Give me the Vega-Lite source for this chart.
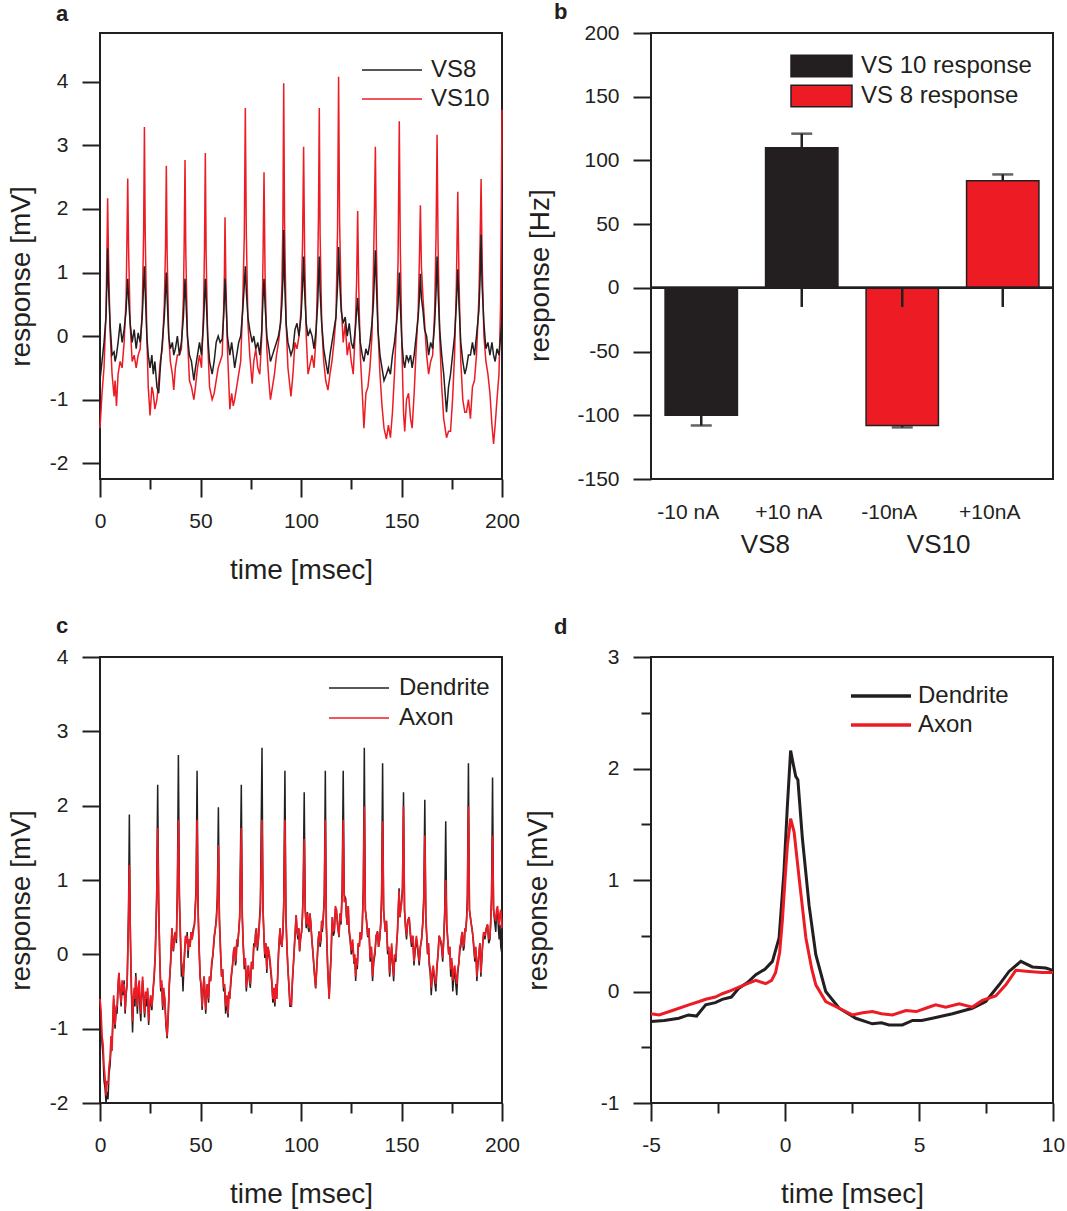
{
"$schema": "https://vega.github.io/schema/vega-lite/v6.json",
"background": "white",
"padding": {"left": 6, "top": 0, "right": 0, "bottom": 0},
"datasets": {
"a": [
{"t":0,"VS8":-0.7,"VS10":-1.45},{"t":1,"VS8":-0.4,"VS10":-0.9},{"t":2,"VS8":-0.1,"VS10":-0.5},{"t":3,"VS8":0.3,"VS10":0.4},{"t":3.4,"VS8":0.8,"VS10":1.2},{"t":3.8,"VS8":1.38,"VS10":2.17},{"t":4.2,"VS8":0.8,"VS10":1.3},{"t":5,"VS8":0.2,"VS10":0.1},{"t":6,"VS8":-0.3,"VS10":-0.6},{"t":7,"VS8":-0.25,"VS10":-0.95},{"t":7.5,"VS8":-0.4,"VS10":-0.7},{"t":8.2,"VS8":-0.3,"VS10":-1.1},{"t":9,"VS8":-0.1,"VS10":-0.6},{"t":10,"VS8":0.2,"VS10":-0.4},{"t":11,"VS8":-0.1,"VS10":-0.5},{"t":12,"VS8":0.1,"VS10":-0.1},{"t":13,"VS8":0.4,"VS10":0.6},{"t":13.4,"VS8":0.7,"VS10":1.5},{"t":13.8,"VS8":0.9,"VS10":2.48},{"t":14.2,"VS8":0.6,"VS10":1.4},{"t":15,"VS8":0.2,"VS10":0.2},{"t":16,"VS8":-0.1,"VS10":-0.4},{"t":17,"VS8":0.1,"VS10":-0.3},{"t":18,"VS8":-0.2,"VS10":-0.5},{"t":19,"VS8":0.05,"VS10":-0.3},{"t":20,"VS8":-0.1,"VS10":-0.2},{"t":21,"VS8":0.3,"VS10":0.4},{"t":21.7,"VS8":0.8,"VS10":1.6},{"t":22.1,"VS8":1.1,"VS10":3.29},{"t":22.5,"VS8":0.7,"VS10":1.6},{"t":23.3,"VS8":0.0,"VS10":0.0},{"t":24,"VS8":-0.3,"VS10":-0.8},{"t":24.9,"VS8":-0.5,"VS10":-1.25},{"t":25.8,"VS8":-0.3,"VS10":-0.8},{"t":26.5,"VS8":-0.6,"VS10":-0.9},{"t":27.3,"VS8":-0.4,"VS10":-1.15},{"t":28.3,"VS8":-0.8,"VS10":-1.0},{"t":29.2,"VS8":-0.9,"VS10":-0.7},{"t":30,"VS8":-0.5,"VS10":-0.4},{"t":31,"VS8":-0.1,"VS10":-0.2},{"t":32,"VS8":0.3,"VS10":0.5},{"t":32.6,"VS8":0.7,"VS10":1.4},{"t":33,"VS8":1.0,"VS10":2.68},{"t":33.4,"VS8":0.6,"VS10":1.3},{"t":34.2,"VS8":0.0,"VS10":0.0},{"t":35,"VS8":-0.2,"VS10":-0.4},{"t":36,"VS8":-0.1,"VS10":-0.6},{"t":36.7,"VS8":-0.3,"VS10":-0.85},{"t":37.5,"VS8":-0.2,"VS10":-0.5},{"t":38.5,"VS8":0.0,"VS10":-0.3},{"t":39.5,"VS8":-0.3,"VS10":-0.3},{"t":40.5,"VS8":-0.1,"VS10":-0.2},{"t":41.5,"VS8":0.3,"VS10":0.6},{"t":41.9,"VS8":0.6,"VS10":1.5},{"t":42.3,"VS8":0.9,"VS10":2.77},{"t":42.7,"VS8":0.6,"VS10":1.3},{"t":43.5,"VS8":0.0,"VS10":0.0},{"t":44.5,"VS8":-0.3,"VS10":-0.7},{"t":45.5,"VS8":-0.4,"VS10":-0.8},{"t":46.7,"VS8":-0.7,"VS10":-1.0},{"t":47.5,"VS8":-0.5,"VS10":-0.8},{"t":48.5,"VS8":-0.3,"VS10":-0.5},{"t":49.5,"VS8":-0.1,"VS10":-0.3},{"t":50.5,"VS8":-0.3,"VS10":-0.5},{"t":51.5,"VS8":0.2,"VS10":0.4},{"t":52,"VS8":0.6,"VS10":1.4},{"t":52.4,"VS8":0.9,"VS10":2.88},{"t":52.8,"VS8":0.6,"VS10":1.3},{"t":53.6,"VS8":0.0,"VS10":-0.1},{"t":54.5,"VS8":-0.4,"VS10":-0.8},{"t":55.8,"VS8":-0.6,"VS10":-1.0},{"t":56.8,"VS8":-0.4,"VS10":-0.9},{"t":57.8,"VS8":-0.1,"VS10":-0.7},{"t":58.8,"VS8":0.0,"VS10":-0.5},{"t":59.8,"VS8":-0.1,"VS10":-0.4},{"t":60.8,"VS8":-0.05,"VS10":-0.3},{"t":61.5,"VS8":0.3,"VS10":0.4},{"t":61.9,"VS8":0.6,"VS10":1.0},{"t":62.2,"VS8":0.9,"VS10":1.87},{"t":62.6,"VS8":0.6,"VS10":0.9},{"t":63.4,"VS8":0.0,"VS10":-0.2},{"t":64.6,"VS8":-0.3,"VS10":-1.15},{"t":65.5,"VS8":-0.1,"VS10":-0.9},{"t":66.3,"VS8":-0.3,"VS10":-1.1},{"t":67,"VS8":-0.5,"VS10":-1.0},{"t":68,"VS8":-0.3,"VS10":-0.8},{"t":69,"VS8":-0.1,"VS10":-0.6},{"t":70,"VS8":0.0,"VS10":-0.4},{"t":71,"VS8":0.4,"VS10":0.5},{"t":71.8,"VS8":0.8,"VS10":1.6},{"t":72.3,"VS8":1.1,"VS10":3.59},{"t":72.8,"VS8":0.7,"VS10":1.6},{"t":73.6,"VS8":0.3,"VS10":0.2},{"t":74.5,"VS8":0.1,"VS10":-0.3},{"t":75.7,"VS8":-0.1,"VS10":-0.75},{"t":76.5,"VS8":0.0,"VS10":-0.4},{"t":77.5,"VS8":-0.2,"VS10":-0.2},{"t":78.5,"VS8":-0.1,"VS10":-0.5},{"t":79.5,"VS8":-0.3,"VS10":-0.6},{"t":80.5,"VS8":0.1,"VS10":0.0},{"t":81.1,"VS8":0.6,"VS10":1.2},{"t":81.6,"VS8":0.9,"VS10":2.58},{"t":82.1,"VS8":0.5,"VS10":1.0},{"t":83,"VS8":0.0,"VS10":-0.2},{"t":84,"VS8":-0.2,"VS10":-0.7},{"t":84.8,"VS8":-0.4,"VS10":-1.0},{"t":85.8,"VS8":-0.3,"VS10":-0.8},{"t":86.8,"VS8":-0.2,"VS10":-0.6},{"t":87.8,"VS8":-0.1,"VS10":-0.3},{"t":88.8,"VS8":0.0,"VS10":-0.1},{"t":89.8,"VS8":0.2,"VS10":0.2},{"t":90.5,"VS8":0.5,"VS10":0.8},{"t":91,"VS8":0.9,"VS10":1.8},{"t":91.4,"VS8":1.67,"VS10":3.98},{"t":91.8,"VS8":0.9,"VS10":1.8},{"t":92.6,"VS8":0.2,"VS10":0.2},{"t":93.5,"VS8":-0.1,"VS10":-0.5},{"t":95,"VS8":-0.3,"VS10":-0.95},{"t":96,"VS8":-0.2,"VS10":-0.6},{"t":97,"VS8":0.1,"VS10":-0.1},{"t":98,"VS8":0.2,"VS10":-0.2},{"t":99,"VS8":0.0,"VS10":0.0},{"t":100,"VS8":0.3,"VS10":0.4},{"t":100.8,"VS8":0.8,"VS10":1.5},{"t":101.3,"VS8":1.25,"VS10":2.98},{"t":101.8,"VS8":0.7,"VS10":1.3},{"t":102.6,"VS8":0.2,"VS10":0.0},{"t":103.5,"VS8":0.0,"VS10":-0.6},{"t":104.5,"VS8":0.1,"VS10":-0.45},{"t":105.5,"VS8":0.0,"VS10":-0.3},{"t":106.5,"VS8":-0.2,"VS10":-0.5},{"t":107.5,"VS8":0.1,"VS10":0.0},{"t":108.3,"VS8":0.5,"VS10":1.0},{"t":108.7,"VS8":0.9,"VS10":1.9},{"t":109.1,"VS8":1.25,"VS10":3.59},{"t":109.5,"VS8":0.7,"VS10":1.6},{"t":110.3,"VS8":0.2,"VS10":0.2},{"t":111.3,"VS8":-0.2,"VS10":-0.4},{"t":112.3,"VS8":-0.4,"VS10":-0.7},{"t":113.4,"VS8":-0.6,"VS10":-0.85},{"t":114.4,"VS8":-0.3,"VS10":-0.6},{"t":115.4,"VS8":-0.1,"VS10":-0.4},{"t":116.4,"VS8":0.1,"VS10":-0.1},{"t":117.4,"VS8":0.3,"VS10":0.3},{"t":118.2,"VS8":0.8,"VS10":1.7},{"t":118.7,"VS8":1.4,"VS10":4.08},{"t":119.2,"VS8":0.9,"VS10":1.8},{"t":120,"VS8":0.4,"VS10":0.5},{"t":121,"VS8":0.2,"VS10":-0.1},{"t":122,"VS8":0.3,"VS10":0.2},{"t":123,"VS8":0.0,"VS10":-0.3},{"t":124,"VS8":0.2,"VS10":-0.1},{"t":125,"VS8":-0.1,"VS10":-0.4},{"t":126,"VS8":-0.2,"VS10":-0.6},{"t":127,"VS8":0.1,"VS10":0.1},{"t":127.7,"VS8":0.4,"VS10":0.9},{"t":128.2,"VS8":0.6,"VS10":1.97},{"t":128.7,"VS8":0.3,"VS10":0.8},{"t":129.5,"VS8":-0.1,"VS10":-0.3},{"t":130.5,"VS8":-0.3,"VS10":-0.9},{"t":131.3,"VS8":-0.4,"VS10":-1.45},{"t":132.3,"VS8":-0.2,"VS10":-0.9},{"t":133.3,"VS8":-0.3,"VS10":-0.8},{"t":134.3,"VS8":-0.1,"VS10":-0.5},{"t":135.3,"VS8":0.2,"VS10":0.0},{"t":136,"VS8":0.5,"VS10":1.0},{"t":136.5,"VS8":0.9,"VS10":1.9},{"t":137,"VS8":1.35,"VS10":2.98},{"t":137.5,"VS8":0.8,"VS10":1.4},{"t":138.3,"VS8":0.1,"VS10":0.1},{"t":139.3,"VS8":-0.3,"VS10":-0.6},{"t":140.3,"VS8":-0.5,"VS10":-1.1},{"t":141.3,"VS8":-0.7,"VS10":-1.45},{"t":142.5,"VS8":-0.6,"VS10":-1.62},{"t":143.5,"VS8":-0.5,"VS10":-1.4},{"t":144.5,"VS8":-0.6,"VS10":-1.6},{"t":145.5,"VS8":-0.3,"VS10":-1.2},{"t":146.5,"VS8":-0.1,"VS10":-0.6},{"t":147.5,"VS8":0.2,"VS10":0.2},{"t":148.3,"VS8":0.5,"VS10":1.2},{"t":148.9,"VS8":1.0,"VS10":3.38},{"t":149.4,"VS8":0.5,"VS10":1.4},{"t":150.2,"VS8":-0.1,"VS10":-0.2},{"t":151,"VS8":-0.4,"VS10":-1.2},{"t":151.6,"VS8":-0.5,"VS10":-1.5},{"t":152.5,"VS8":-0.3,"VS10":-1.0},{"t":153.5,"VS8":-0.4,"VS10":-0.9},{"t":154.5,"VS8":-0.3,"VS10":-1.3},{"t":155.3,"VS8":-0.5,"VS10":-1.45},{"t":156.3,"VS8":-0.3,"VS10":-0.9},{"t":157.3,"VS8":0.0,"VS10":-0.2},{"t":158.3,"VS8":0.3,"VS10":0.4},{"t":158.9,"VS8":0.6,"VS10":1.2},{"t":159.4,"VS8":0.98,"VS10":2.06},{"t":159.9,"VS8":0.6,"VS10":1.1},{"t":160.7,"VS8":0.4,"VS10":0.6},{"t":161.5,"VS8":0.1,"VS10":0.2},{"t":162.5,"VS8":0.0,"VS10":-0.3},{"t":163.5,"VS8":-0.3,"VS10":-0.6},{"t":164.5,"VS8":-0.1,"VS10":-0.4},{"t":165.5,"VS8":-0.2,"VS10":-0.3},{"t":166.5,"VS8":0.2,"VS10":0.4},{"t":167.2,"VS8":0.7,"VS10":1.6},{"t":167.7,"VS8":1.25,"VS10":3.17},{"t":168.2,"VS8":0.7,"VS10":1.4},{"t":169,"VS8":0.1,"VS10":0.0},{"t":170,"VS8":-0.3,"VS10":-0.8},{"t":171,"VS8":-0.6,"VS10":-1.3},{"t":172.4,"VS8":-1.2,"VS10":-1.6},{"t":173.4,"VS8":-0.8,"VS10":-1.5},{"t":174.4,"VS8":-0.6,"VS10":-1.5},{"t":175.4,"VS8":-0.3,"VS10":-1.0},{"t":176.4,"VS8":0.0,"VS10":-0.3},{"t":177.3,"VS8":0.5,"VS10":0.8},{"t":178,"VS8":1.05,"VS10":2.27},{"t":178.6,"VS8":0.5,"VS10":0.9},{"t":179.5,"VS8":-0.1,"VS10":-0.4},{"t":180.5,"VS8":-0.4,"VS10":-1.0},{"t":181.5,"VS8":-0.6,"VS10":-1.2},{"t":182.3,"VS8":-0.5,"VS10":-1.2},{"t":183.3,"VS8":-0.3,"VS10":-1.0},{"t":184.3,"VS8":-0.3,"VS10":-1.3},{"t":185.3,"VS8":-0.1,"VS10":-0.8},{"t":186.3,"VS8":-0.3,"VS10":-0.7},{"t":187.3,"VS8":0.0,"VS10":-0.3},{"t":188.5,"VS8":0.4,"VS10":0.6},{"t":189.1,"VS8":0.9,"VS10":1.5},{"t":189.6,"VS8":1.6,"VS10":2.47},{"t":190.1,"VS8":0.8,"VS10":1.2},{"t":191,"VS8":0.2,"VS10":0.0},{"t":192,"VS8":-0.2,"VS10":-0.4},{"t":193,"VS8":-0.1,"VS10":-0.6},{"t":194,"VS8":-0.3,"VS10":-0.9},{"t":195,"VS8":-0.1,"VS10":-1.4},{"t":195.8,"VS8":-0.3,"VS10":-1.7},{"t":196.6,"VS8":-0.4,"VS10":-1.4},{"t":197.5,"VS8":-0.2,"VS10":-1.0},{"t":198.5,"VS8":-0.3,"VS10":-0.6},{"t":199.3,"VS8":0.0,"VS10":0.5},{"t":200,"VS8":0.3,"VS10":3.56}
],
"b": [
{"cond":"-10 nA","grp":"VS8","series":"VS 10 response","value":-100,"cap":-108,"dl":-15},
{"cond":"+10 nA","grp":"VS8","series":"VS 10 response","value":110,"cap":121,"dl":-15},
{"cond":"-10nA","grp":"VS10","series":"VS 8 response","value":-108,"cap":-109.5,"dl":-15},
{"cond":"+10nA","grp":"VS10","series":"VS 8 response","value":84,"cap":89,"dl":-15}
],
"c": [
{"t":0,"Dendrite":-0.7,"Axon":-0.6},{"t":0.5,"Dendrite":-0.9,"Axon":-0.75},{"t":1,"Dendrite":-1.2,"Axon":-1.1},{"t":1.5,"Dendrite":-1.35,"Axon":-1.2},{"t":2,"Dendrite":-1.7,"Axon":-1.5},{"t":2.5,"Dendrite":-1.8,"Axon":-1.65},{"t":3,"Dendrite":-2.0,"Axon":-1.9},{"t":3.5,"Dendrite":-1.85,"Axon":-1.7},{"t":4,"Dendrite":-1.95,"Axon":-1.75},{"t":4.5,"Dendrite":-1.6,"Axon":-1.5},{"t":5,"Dendrite":-1.5,"Axon":-1.4},{"t":5.5,"Dendrite":-1.25,"Axon":-1.1},{"t":6,"Dendrite":-1.2,"Axon":-1.3},{"t":6.4,"Dendrite":-0.9,"Axon":-0.85},{"t":6.8,"Dendrite":-0.6,"Axon":-0.55},{"t":7.2,"Dendrite":-0.9,"Axon":-0.8},{"t":7.5,"Dendrite":-1.0,"Axon":-0.95},{"t":8,"Dendrite":-0.75,"Axon":-0.7},{"t":8.5,"Dendrite":-0.8,"Axon":-0.7},{"t":9,"Dendrite":-0.45,"Axon":-0.4},{"t":9.4,"Dendrite":-0.25,"Axon":-0.25},{"t":10,"Dendrite":-0.5,"Axon":-0.5},{"t":10.5,"Dendrite":-0.7,"Axon":-0.65},{"t":11,"Dendrite":-0.4,"Axon":-0.35},{"t":11.5,"Dendrite":-0.55,"Axon":-0.5},{"t":12,"Dendrite":-0.35,"Axon":-0.4},{"t":12.5,"Dendrite":-0.8,"Axon":-0.75},{"t":13,"Dendrite":-0.55,"Axon":-0.5},{"t":13.5,"Dendrite":-0.4,"Axon":-0.4},{"t":14.2,"Dendrite":0.6,"Axon":0.5},{"t":14.6,"Dendrite":1.88,"Axon":1.2},{"t":15.1,"Dendrite":0.3,"Axon":0.25},{"t":15.6,"Dendrite":-0.5,"Axon":-0.4},{"t":16.2,"Dendrite":-1.05,"Axon":-0.9},{"t":16.6,"Dendrite":-0.7,"Axon":-0.6},{"t":17,"Dendrite":-0.5,"Axon":-0.45},{"t":17.4,"Dendrite":-0.7,"Axon":-0.6},{"t":17.8,"Dendrite":-0.25,"Axon":-0.3},{"t":18.2,"Dendrite":-0.55,"Axon":-0.5},{"t":18.6,"Dendrite":-0.8,"Axon":-0.7},{"t":19,"Dendrite":-0.5,"Axon":-0.45},{"t":19.5,"Dendrite":-0.4,"Axon":-0.35},{"t":19.9,"Dendrite":-0.75,"Axon":-0.6},{"t":20.3,"Dendrite":-0.9,"Axon":-0.8},{"t":20.8,"Dendrite":-0.55,"Axon":-0.5},{"t":21.2,"Dendrite":-0.35,"Axon":-0.3},{"t":21.7,"Dendrite":-0.6,"Axon":-0.55},{"t":22.2,"Dendrite":-0.85,"Axon":-0.8},{"t":22.7,"Dendrite":-0.55,"Axon":-0.5},{"t":23.2,"Dendrite":-0.7,"Axon":-0.6},{"t":23.7,"Dendrite":-0.5,"Axon":-0.45},{"t":24.2,"Dendrite":-0.95,"Axon":-0.9},{"t":24.7,"Dendrite":-0.7,"Axon":-0.65},{"t":25.2,"Dendrite":-0.6,"Axon":-0.55},{"t":25.8,"Dendrite":-0.75,"Axon":-0.7},{"t":26.5,"Dendrite":-0.45,"Axon":-0.45},{"t":27,"Dendrite":-0.3,"Axon":-0.25},{"t":27.5,"Dendrite":0.0,"Axon":0.0},{"t":28.2,"Dendrite":0.8,"Axon":0.7},{"t":28.7,"Dendrite":2.28,"Axon":1.7},{"t":29.2,"Dendrite":0.7,"Axon":0.6},{"t":29.7,"Dendrite":0.0,"Axon":0.0},{"t":30.2,"Dendrite":-0.5,"Axon":-0.45},{"t":30.7,"Dendrite":-0.4,"Axon":-0.35},{"t":31.2,"Dendrite":-0.75,"Axon":-0.7},{"t":31.7,"Dendrite":-0.5,"Axon":-0.45},{"t":32.2,"Dendrite":-0.6,"Axon":-0.6},{"t":32.8,"Dendrite":-0.95,"Axon":-0.9},{"t":33.4,"Dendrite":-1.13,"Axon":-1.1},{"t":34,"Dendrite":-0.8,"Axon":-0.75},{"t":34.5,"Dendrite":-0.4,"Axon":-0.4},{"t":35.2,"Dendrite":-0.1,"Axon":-0.05},{"t":35.8,"Dendrite":0.35,"Axon":0.35},{"t":36.2,"Dendrite":0.1,"Axon":0.15},{"t":36.5,"Dendrite":0.04,"Axon":0.05},{"t":37,"Dendrite":0.25,"Axon":0.2},{"t":37.5,"Dendrite":0.3,"Axon":0.3},{"t":38,"Dendrite":0.15,"Axon":0.2},{"t":38.5,"Dendrite":0.9,"Axon":0.8},{"t":39,"Dendrite":2.68,"Axon":1.81},{"t":39.5,"Dendrite":0.8,"Axon":0.7},{"t":40,"Dendrite":0.2,"Axon":0.3},{"t":40.5,"Dendrite":-0.3,"Axon":-0.1},{"t":40.9,"Dendrite":-0.2,"Axon":-0.15},{"t":41.3,"Dendrite":-0.5,"Axon":-0.3},{"t":41.7,"Dendrite":-0.2,"Axon":-0.15},{"t":42.1,"Dendrite":0.0,"Axon":0.05},{"t":42.6,"Dendrite":0.25,"Axon":0.25},{"t":43,"Dendrite":0.15,"Axon":0.15},{"t":43.4,"Dendrite":0.3,"Axon":0.25},{"t":43.8,"Dendrite":-0.05,"Axon":0.05},{"t":44.3,"Dendrite":0.2,"Axon":0.2},{"t":44.8,"Dendrite":0.1,"Axon":0.1},{"t":45.3,"Dendrite":0.3,"Axon":0.3},{"t":45.8,"Dendrite":0.2,"Axon":0.2},{"t":46.4,"Dendrite":0.35,"Axon":0.3},{"t":47,"Dendrite":0.4,"Axon":0.4},{"t":47.8,"Dendrite":0.9,"Axon":0.8},{"t":48.3,"Dendrite":2.47,"Axon":1.81},{"t":48.8,"Dendrite":0.6,"Axon":0.6},{"t":49.3,"Dendrite":0.1,"Axon":0.1},{"t":49.8,"Dendrite":-0.3,"Axon":-0.3},{"t":50.3,"Dendrite":-0.45,"Axon":-0.4},{"t":50.8,"Dendrite":-0.75,"Axon":-0.7},{"t":51.3,"Dendrite":-0.5,"Axon":-0.45},{"t":51.8,"Dendrite":-0.3,"Axon":-0.3},{"t":52.2,"Dendrite":-0.55,"Axon":-0.5},{"t":52.6,"Dendrite":-0.8,"Axon":-0.75},{"t":53,"Dendrite":-0.55,"Axon":-0.5},{"t":53.4,"Dendrite":-0.4,"Axon":-0.4},{"t":54,"Dendrite":-0.65,"Axon":-0.6},{"t":54.5,"Dendrite":-0.3,"Axon":-0.3},{"t":55,"Dendrite":-0.36,"Axon":-0.36},{"t":55.6,"Dendrite":-0.15,"Axon":-0.1},{"t":56.2,"Dendrite":0.0,"Axon":0.0},{"t":56.8,"Dendrite":0.2,"Axon":0.25},{"t":57.4,"Dendrite":0.35,"Axon":0.35},{"t":57.9,"Dendrite":0.5,"Axon":0.45},{"t":58.4,"Dendrite":0.8,"Axon":0.7},{"t":58.9,"Dendrite":1.98,"Axon":1.47},{"t":59.4,"Dendrite":0.5,"Axon":0.45},{"t":60,"Dendrite":0.0,"Axon":0.05},{"t":60.5,"Dendrite":-0.3,"Axon":-0.3},{"t":61,"Dendrite":-0.2,"Axon":-0.2},{"t":61.5,"Dendrite":-0.5,"Axon":-0.45},{"t":62,"Dendrite":-0.45,"Axon":-0.4},{"t":62.5,"Dendrite":-0.8,"Axon":-0.7},{"t":63.1,"Dendrite":-0.6,"Axon":-0.55},{"t":63.7,"Dendrite":-0.85,"Axon":-0.8},{"t":64.1,"Dendrite":-0.55,"Axon":-0.5},{"t":64.5,"Dendrite":-0.6,"Axon":-0.6},{"t":65.2,"Dendrite":-0.35,"Axon":-0.3},{"t":66,"Dendrite":-0.13,"Axon":-0.13},{"t":66.5,"Dendrite":0.05,"Axon":0.05},{"t":67,"Dendrite":0.1,"Axon":0.1},{"t":67.4,"Dendrite":-0.15,"Axon":-0.1},{"t":67.7,"Dendrite":-0.1,"Axon":-0.05},{"t":68.1,"Dendrite":0.2,"Axon":0.2},{"t":68.5,"Dendrite":0.1,"Axon":0.15},{"t":69,"Dendrite":0.3,"Axon":0.3},{"t":69.5,"Dendrite":0.5,"Axon":0.5},{"t":70.3,"Dendrite":2.28,"Axon":1.7},{"t":70.8,"Dendrite":0.5,"Axon":0.5},{"t":71.3,"Dendrite":0.1,"Axon":0.1},{"t":71.8,"Dendrite":-0.2,"Axon":-0.15},{"t":72.3,"Dendrite":-0.1,"Axon":-0.05},{"t":72.8,"Dendrite":-0.5,"Axon":-0.45},{"t":73.3,"Dendrite":-0.3,"Axon":-0.25},{"t":73.8,"Dendrite":-0.15,"Axon":-0.15},{"t":74.3,"Dendrite":-0.35,"Axon":-0.3},{"t":74.8,"Dendrite":-0.45,"Axon":-0.4},{"t":75.4,"Dendrite":-0.1,"Axon":-0.1},{"t":76,"Dendrite":-0.2,"Axon":-0.2},{"t":76.5,"Dendrite":0.15,"Axon":0.1},{"t":77,"Dendrite":0.1,"Axon":0.1},{"t":77.4,"Dendrite":0.3,"Axon":0.25},{"t":77.8,"Dendrite":0.35,"Axon":0.35},{"t":78.3,"Dendrite":0.05,"Axon":0.1},{"t":78.8,"Dendrite":0.2,"Axon":0.2},{"t":79.3,"Dendrite":0.45,"Axon":0.4},{"t":79.8,"Dendrite":0.7,"Axon":0.6},{"t":80.6,"Dendrite":2.78,"Axon":1.81},{"t":81.1,"Dendrite":0.6,"Axon":0.6},{"t":81.6,"Dendrite":0.2,"Axon":0.25},{"t":82,"Dendrite":-0.05,"Axon":0.0},{"t":82.5,"Dendrite":0.15,"Axon":0.15},{"t":83,"Dendrite":-0.25,"Axon":-0.2},{"t":83.5,"Dendrite":0.1,"Axon":0.1},{"t":84,"Dendrite":0.0,"Axon":0.05},{"t":84.5,"Dendrite":-0.1,"Axon":-0.05},{"t":85,"Dendrite":-0.25,"Axon":-0.2},{"t":85.5,"Dendrite":-0.4,"Axon":-0.35},{"t":86,"Dendrite":-0.65,"Axon":-0.6},{"t":86.5,"Dendrite":-0.5,"Axon":-0.45},{"t":87,"Dendrite":-0.7,"Axon":-0.65},{"t":87.5,"Dendrite":-0.45,"Axon":-0.4},{"t":87.9,"Dendrite":-0.6,"Axon":-0.6},{"t":88.4,"Dendrite":-0.3,"Axon":-0.3},{"t":88.8,"Dendrite":0.0,"Axon":0.0},{"t":89.2,"Dendrite":0.2,"Axon":0.2},{"t":89.6,"Dendrite":0.35,"Axon":0.35},{"t":90,"Dendrite":0.15,"Axon":0.2},{"t":90.5,"Dendrite":0.1,"Axon":0.1},{"t":91,"Dendrite":0.3,"Axon":0.3},{"t":91.4,"Dendrite":0.7,"Axon":0.6},{"t":92,"Dendrite":2.47,"Axon":1.81},{"t":92.5,"Dendrite":0.5,"Axon":0.5},{"t":93,"Dendrite":0.1,"Axon":0.1},{"t":93.5,"Dendrite":-0.2,"Axon":-0.2},{"t":94,"Dendrite":-0.45,"Axon":-0.4},{"t":94.5,"Dendrite":-0.7,"Axon":-0.65},{"t":95.2,"Dendrite":-0.7,"Axon":-0.68},{"t":95.7,"Dendrite":-0.4,"Axon":-0.35},{"t":96.3,"Dendrite":-0.1,"Axon":-0.1},{"t":96.9,"Dendrite":0.2,"Axon":0.2},{"t":97.6,"Dendrite":0.53,"Axon":0.53},{"t":98,"Dendrite":0.3,"Axon":0.35},{"t":98.5,"Dendrite":0.2,"Axon":0.25},{"t":98.9,"Dendrite":0.35,"Axon":0.35},{"t":99.3,"Dendrite":0.04,"Axon":0.05},{"t":99.8,"Dendrite":0.2,"Axon":0.25},{"t":100.3,"Dendrite":0.3,"Axon":0.3},{"t":100.7,"Dendrite":0.5,"Axon":0.5},{"t":101.1,"Dendrite":0.9,"Axon":0.8},{"t":101.6,"Dendrite":2.18,"Axon":1.55},{"t":102.1,"Dendrite":0.6,"Axon":0.6},{"t":102.6,"Dendrite":0.35,"Axon":0.4},{"t":103.2,"Dendrite":0.57,"Axon":0.55},{"t":103.6,"Dendrite":0.35,"Axon":0.4},{"t":104,"Dendrite":0.3,"Axon":0.35},{"t":104.4,"Dendrite":0.55,"Axon":0.55},{"t":104.8,"Dendrite":0.45,"Axon":0.45},{"t":105.4,"Dendrite":0.2,"Axon":0.2},{"t":106,"Dendrite":0.0,"Axon":0.0},{"t":106.6,"Dendrite":-0.25,"Axon":-0.2},{"t":107.3,"Dendrite":-0.46,"Axon":-0.45},{"t":107.8,"Dendrite":-0.2,"Axon":-0.2},{"t":108.2,"Dendrite":0.0,"Axon":0.0},{"t":108.6,"Dendrite":0.2,"Axon":0.2},{"t":109,"Dendrite":0.31,"Axon":0.3},{"t":109.5,"Dendrite":0.1,"Axon":0.15},{"t":110,"Dendrite":0.2,"Axon":0.25},{"t":110.3,"Dendrite":0.45,"Axon":0.45},{"t":110.6,"Dendrite":0.3,"Axon":0.35},{"t":111.1,"Dendrite":0.5,"Axon":0.5},{"t":111.6,"Dendrite":0.8,"Axon":0.7},{"t":112.1,"Dendrite":2.47,"Axon":1.81},{"t":112.6,"Dendrite":0.4,"Axon":0.4},{"t":113.3,"Dendrite":-0.2,"Axon":-0.2},{"t":114,"Dendrite":-0.59,"Axon":-0.6},{"t":114.5,"Dendrite":-0.3,"Axon":-0.25},{"t":115,"Dendrite":0.0,"Axon":0.0},{"t":115.3,"Dendrite":0.3,"Axon":0.3},{"t":115.6,"Dendrite":0.5,"Axon":0.5},{"t":116.1,"Dendrite":0.25,"Axon":0.3},{"t":116.6,"Dendrite":0.3,"Axon":0.35},{"t":117.1,"Dendrite":0.6,"Axon":0.65},{"t":117.6,"Dendrite":0.6,"Axon":0.6},{"t":118.2,"Dendrite":0.4,"Axon":0.4},{"t":118.9,"Dendrite":0.23,"Axon":0.25},{"t":119.4,"Dendrite":0.55,"Axon":0.55},{"t":119.9,"Dendrite":0.4,"Axon":0.45},{"t":120.5,"Dendrite":0.9,"Axon":0.8},{"t":121,"Dendrite":2.47,"Axon":1.81},{"t":121.5,"Dendrite":0.8,"Axon":0.7},{"t":122.2,"Dendrite":0.75,"Axon":0.75},{"t":122.6,"Dendrite":0.5,"Axon":0.55},{"t":123,"Dendrite":0.4,"Axon":0.4},{"t":123.5,"Dendrite":0.65,"Axon":0.65},{"t":123.9,"Dendrite":0.3,"Axon":0.35},{"t":124.4,"Dendrite":0.2,"Axon":0.25},{"t":125,"Dendrite":0.0,"Axon":0.05},{"t":125.7,"Dendrite":0.15,"Axon":0.2},{"t":126.4,"Dendrite":-0.13,"Axon":-0.1},{"t":126.8,"Dendrite":-0.05,"Axon":0.0},{"t":127.2,"Dendrite":-0.36,"Axon":-0.3},{"t":127.6,"Dendrite":-0.1,"Axon":-0.05},{"t":128,"Dendrite":-0.2,"Axon":-0.15},{"t":128.5,"Dendrite":0.15,"Axon":0.15},{"t":129,"Dendrite":0.1,"Axon":0.1},{"t":129.5,"Dendrite":0.3,"Axon":0.3},{"t":130,"Dendrite":0.2,"Axon":0.2},{"t":130.5,"Dendrite":0.4,"Axon":0.4},{"t":131,"Dendrite":0.9,"Axon":0.8},{"t":131.5,"Dendrite":2.78,"Axon":1.99},{"t":132,"Dendrite":0.6,"Axon":0.6},{"t":132.6,"Dendrite":0.45,"Axon":0.45},{"t":133.2,"Dendrite":0.23,"Axon":0.25},{"t":133.8,"Dendrite":0.35,"Axon":0.35},{"t":134.4,"Dendrite":-0.1,"Axon":-0.05},{"t":135,"Dendrite":0.1,"Axon":0.1},{"t":135.6,"Dendrite":-0.36,"Axon":-0.3},{"t":136.2,"Dendrite":-0.1,"Axon":-0.05},{"t":136.8,"Dendrite":0.0,"Axon":0.05},{"t":137.4,"Dendrite":0.25,"Axon":0.25},{"t":138.1,"Dendrite":0.31,"Axon":0.3},{"t":138.6,"Dendrite":0.1,"Axon":0.1},{"t":139.2,"Dendrite":0.2,"Axon":0.25},{"t":139.7,"Dendrite":0.45,"Axon":0.4},{"t":140.1,"Dendrite":0.8,"Axon":0.7},{"t":140.6,"Dendrite":2.57,"Axon":1.79},{"t":141.1,"Dendrite":0.6,"Axon":0.6},{"t":141.5,"Dendrite":0.45,"Axon":0.45},{"t":142,"Dendrite":0.3,"Axon":0.3},{"t":142.5,"Dendrite":0.45,"Axon":0.45},{"t":143.1,"Dendrite":0.0,"Axon":0.05},{"t":143.6,"Dendrite":0.1,"Axon":0.1},{"t":144.1,"Dendrite":-0.3,"Axon":-0.25},{"t":144.6,"Dendrite":-0.1,"Axon":-0.05},{"t":145.1,"Dendrite":0.1,"Axon":0.15},{"t":145.6,"Dendrite":-0.15,"Axon":-0.1},{"t":146.1,"Dendrite":-0.36,"Axon":-0.3},{"t":146.6,"Dendrite":-0.05,"Axon":0.0},{"t":147.2,"Dendrite":-0.1,"Axon":-0.05},{"t":147.6,"Dendrite":0.15,"Axon":0.15},{"t":148,"Dendrite":0.3,"Axon":0.3},{"t":148.4,"Dendrite":0.6,"Axon":0.6},{"t":148.8,"Dendrite":0.89,"Axon":0.85},{"t":149.2,"Dendrite":0.5,"Axon":0.5},{"t":149.6,"Dendrite":0.6,"Axon":0.6},{"t":150.1,"Dendrite":0.75,"Axon":0.7},{"t":150.5,"Dendrite":0.9,"Axon":0.85},{"t":151,"Dendrite":2.18,"Axon":1.99},{"t":151.5,"Dendrite":0.6,"Axon":0.6},{"t":152,"Dendrite":0.35,"Axon":0.4},{"t":152.5,"Dendrite":0.2,"Axon":0.25},{"t":153.1,"Dendrite":0.45,"Axon":0.45},{"t":153.8,"Dendrite":0.5,"Axon":0.5},{"t":154.4,"Dendrite":0.25,"Axon":0.3},{"t":155,"Dendrite":0.1,"Axon":0.15},{"t":155.6,"Dendrite":0.25,"Axon":0.25},{"t":156.2,"Dendrite":-0.15,"Axon":-0.1},{"t":156.8,"Dendrite":0.05,"Axon":0.1},{"t":157.4,"Dendrite":0.2,"Axon":0.25},{"t":158.1,"Dendrite":0.05,"Axon":0.1},{"t":158.8,"Dendrite":-0.15,"Axon":-0.1},{"t":159.4,"Dendrite":0.1,"Axon":0.1},{"t":160,"Dendrite":0.2,"Axon":0.2},{"t":160.6,"Dendrite":0.45,"Axon":0.4},{"t":161.1,"Dendrite":0.8,"Axon":0.7},{"t":161.6,"Dendrite":2.08,"Axon":1.6},{"t":162.1,"Dendrite":0.5,"Axon":0.5},{"t":162.6,"Dendrite":0.2,"Axon":0.25},{"t":163,"Dendrite":0.0,"Axon":0.0},{"t":163.4,"Dendrite":0.15,"Axon":0.15},{"t":163.8,"Dendrite":-0.15,"Axon":-0.1},{"t":164.3,"Dendrite":-0.25,"Axon":-0.2},{"t":164.8,"Dendrite":-0.55,"Axon":-0.45},{"t":165.3,"Dendrite":-0.3,"Axon":-0.25},{"t":165.8,"Dendrite":-0.2,"Axon":-0.15},{"t":166.4,"Dendrite":-0.35,"Axon":-0.3},{"t":167.1,"Dendrite":-0.5,"Axon":-0.4},{"t":167.6,"Dendrite":-0.2,"Axon":-0.15},{"t":168.2,"Dendrite":0.0,"Axon":0.0},{"t":168.7,"Dendrite":0.25,"Axon":0.25},{"t":169.3,"Dendrite":0.2,"Axon":0.2},{"t":169.9,"Dendrite":0.1,"Axon":0.15},{"t":170.5,"Dendrite":-0.1,"Axon":-0.05},{"t":171,"Dendrite":0.2,"Axon":0.2},{"t":171.5,"Dendrite":0.6,"Axon":0.5},{"t":172,"Dendrite":1.79,"Axon":1.0},{"t":172.5,"Dendrite":0.4,"Axon":0.4},{"t":173,"Dendrite":0.2,"Axon":0.2},{"t":173.5,"Dendrite":0.0,"Axon":0.0},{"t":174,"Dendrite":0.1,"Axon":0.1},{"t":174.5,"Dendrite":-0.3,"Axon":-0.2},{"t":175,"Dendrite":-0.1,"Axon":-0.05},{"t":175.5,"Dendrite":-0.5,"Axon":-0.35},{"t":176,"Dendrite":-0.3,"Axon":-0.2},{"t":176.5,"Dendrite":-0.2,"Axon":-0.15},{"t":177,"Dendrite":-0.4,"Axon":-0.3},{"t":177.5,"Dendrite":-0.55,"Axon":-0.4},{"t":178,"Dendrite":-0.25,"Axon":-0.2},{"t":178.6,"Dendrite":-0.1,"Axon":-0.1},{"t":179,"Dendrite":0.05,"Axon":0.1},{"t":179.5,"Dendrite":0.1,"Axon":0.15},{"t":179.9,"Dendrite":0.25,"Axon":0.25},{"t":180.3,"Dendrite":0.3,"Axon":0.3},{"t":180.8,"Dendrite":0.05,"Axon":0.1},{"t":181.2,"Dendrite":0.1,"Axon":0.15},{"t":181.6,"Dendrite":0.35,"Axon":0.35},{"t":181.9,"Dendrite":0.3,"Axon":0.3},{"t":182.4,"Dendrite":0.5,"Axon":0.45},{"t":182.8,"Dendrite":0.8,"Axon":0.7},{"t":183.3,"Dendrite":2.57,"Axon":1.99},{"t":183.8,"Dendrite":0.6,"Axon":0.6},{"t":184.5,"Dendrite":0.45,"Axon":0.45},{"t":185.3,"Dendrite":0.3,"Axon":0.3},{"t":185.9,"Dendrite":0.1,"Axon":0.15},{"t":186.5,"Dendrite":-0.1,"Axon":-0.05},{"t":187,"Dendrite":0.05,"Axon":0.1},{"t":187.5,"Dendrite":-0.36,"Axon":-0.3},{"t":188,"Dendrite":-0.15,"Axon":-0.1},{"t":188.5,"Dendrite":0.0,"Axon":0.0},{"t":189,"Dendrite":0.15,"Axon":0.15},{"t":189.5,"Dendrite":-0.3,"Axon":-0.25},{"t":189.9,"Dendrite":-0.1,"Axon":-0.05},{"t":190.3,"Dendrite":0.1,"Axon":0.1},{"t":190.9,"Dendrite":0.3,"Axon":0.3},{"t":191.5,"Dendrite":0.2,"Axon":0.25},{"t":192.2,"Dendrite":0.35,"Axon":0.35},{"t":192.8,"Dendrite":0.4,"Axon":0.4},{"t":193.4,"Dendrite":0.15,"Axon":0.2},{"t":194,"Dendrite":0.2,"Axon":0.25},{"t":194.4,"Dendrite":0.45,"Axon":0.45},{"t":194.8,"Dendrite":0.8,"Axon":0.7},{"t":195.3,"Dendrite":2.38,"Axon":1.6},{"t":195.8,"Dendrite":0.6,"Axon":0.6},{"t":196.3,"Dendrite":0.45,"Axon":0.5},{"t":196.9,"Dendrite":0.3,"Axon":0.45},{"t":197.3,"Dendrite":0.55,"Axon":0.6},{"t":197.8,"Dendrite":0.6,"Axon":0.65},{"t":198.2,"Dendrite":0.35,"Axon":0.5},{"t":198.6,"Dendrite":0.2,"Axon":0.4},{"t":199,"Dendrite":0.4,"Axon":0.55},{"t":199.4,"Dendrite":0.1,"Axon":0.6},{"t":200,"Dendrite":0.0,"Axon":0.35}
],
"d": [
{"t":-5,"s":"Dendrite","v":-0.27},{"t":-4.5,"s":"Dendrite","v":-0.26},{"t":-3.96,"s":"Dendrite","v":-0.24},{"t":-3.6,"s":"Dendrite","v":-0.21},{"t":-3.3,"s":"Dendrite","v":-0.22},{"t":-2.96,"s":"Dendrite","v":-0.12},{"t":-2.6,"s":"Dendrite","v":-0.1},{"t":-2.34,"s":"Dendrite","v":-0.07},{"t":-2.0,"s":"Dendrite","v":-0.05},{"t":-1.72,"s":"Dendrite","v":0.03},{"t":-1.4,"s":"Dendrite","v":0.08},{"t":-1.09,"s":"Dendrite","v":0.15},{"t":-0.75,"s":"Dendrite","v":0.2},{"t":-0.47,"s":"Dendrite","v":0.27},{"t":-0.22,"s":"Dendrite","v":0.48},{"t":-0.04,"s":"Dendrite","v":1.07},{"t":0.09,"s":"Dendrite","v":1.67},{"t":0.21,"s":"Dendrite","v":2.16},{"t":0.3,"s":"Dendrite","v":2.05},{"t":0.4,"s":"Dendrite","v":1.93},{"t":0.48,"s":"Dendrite","v":1.9},{"t":0.65,"s":"Dendrite","v":1.37},{"t":0.9,"s":"Dendrite","v":0.77},{"t":1.15,"s":"Dendrite","v":0.33},{"t":1.52,"s":"Dendrite","v":0.0},{"t":2.02,"s":"Dendrite","v":-0.15},{"t":2.64,"s":"Dendrite","v":-0.24},{"t":3.26,"s":"Dendrite","v":-0.29},{"t":3.6,"s":"Dendrite","v":-0.28},{"t":3.88,"s":"Dendrite","v":-0.3},{"t":4.38,"s":"Dendrite","v":-0.3},{"t":4.76,"s":"Dendrite","v":-0.26},{"t":5.1,"s":"Dendrite","v":-0.26},{"t":5.5,"s":"Dendrite","v":-0.24},{"t":6.25,"s":"Dendrite","v":-0.2},{"t":6.99,"s":"Dendrite","v":-0.15},{"t":7.49,"s":"Dendrite","v":-0.09},{"t":7.99,"s":"Dendrite","v":0.06},{"t":8.36,"s":"Dendrite","v":0.18},{"t":8.8,"s":"Dendrite","v":0.27},{"t":9.23,"s":"Dendrite","v":0.22},{"t":9.73,"s":"Dendrite","v":0.21},{"t":10,"s":"Dendrite","v":0.19},
{"t":-5,"s":"Axon","v":-0.2},{"t":-4.7,"s":"Axon","v":-0.21},{"t":-4.2,"s":"Axon","v":-0.17},{"t":-3.59,"s":"Axon","v":-0.12},{"t":-3.2,"s":"Axon","v":-0.09},{"t":-2.96,"s":"Axon","v":-0.07},{"t":-2.6,"s":"Axon","v":-0.05},{"t":-2.34,"s":"Axon","v":-0.02},{"t":-2.0,"s":"Axon","v":0.01},{"t":-1.72,"s":"Axon","v":0.04},{"t":-1.4,"s":"Axon","v":0.07},{"t":-1.09,"s":"Axon","v":0.1},{"t":-0.72,"s":"Axon","v":0.07},{"t":-0.5,"s":"Axon","v":0.1},{"t":-0.35,"s":"Axon","v":0.17},{"t":-0.2,"s":"Axon","v":0.35},{"t":-0.1,"s":"Axon","v":0.63},{"t":0.0,"s":"Axon","v":1.0},{"t":0.09,"s":"Axon","v":1.31},{"t":0.21,"s":"Axon","v":1.55},{"t":0.34,"s":"Axon","v":1.43},{"t":0.53,"s":"Axon","v":1.01},{"t":0.78,"s":"Axon","v":0.48},{"t":1.0,"s":"Axon","v":0.2},{"t":1.15,"s":"Axon","v":0.06},{"t":1.52,"s":"Axon","v":-0.09},{"t":2.02,"s":"Axon","v":-0.15},{"t":2.51,"s":"Axon","v":-0.21},{"t":2.9,"s":"Axon","v":-0.19},{"t":3.26,"s":"Axon","v":-0.18},{"t":3.6,"s":"Axon","v":-0.2},{"t":4.01,"s":"Axon","v":-0.21},{"t":4.51,"s":"Axon","v":-0.17},{"t":4.9,"s":"Axon","v":-0.18},{"t":5.25,"s":"Axon","v":-0.15},{"t":5.62,"s":"Axon","v":-0.12},{"t":6.0,"s":"Axon","v":-0.14},{"t":6.5,"s":"Axon","v":-0.11},{"t":6.99,"s":"Axon","v":-0.14},{"t":7.36,"s":"Axon","v":-0.08},{"t":7.86,"s":"Axon","v":-0.04},{"t":8.24,"s":"Axon","v":0.06},{"t":8.61,"s":"Axon","v":0.19},{"t":9.1,"s":"Axon","v":0.18},{"t":9.6,"s":"Axon","v":0.17},{"t":10,"s":"Axon","v":0.17}
]
},
"columns": 2,
"spacing": {"row": 29, "column": 2},
"resolve": {"scale": {"color": "independent"}},
"concat": [
{
 "width": 402, "height": 446,
 "title": {"text": "a", "dx": -44, "offset": 7},
 "data": {"name": "a"},
 "layer": [
  {"mark": {"type": "line", "strokeWidth": 1.5},
   "encoding": {
    "x": {"field": "t", "type": "quantitative", "scale": {"domain": [0, 200], "nice": false},
      "axis": {"title": "time [msec]", "values": [0,25,50,75,100,125,150,175,200], "labelExpr": "datum.value % 50 == 0 ? '' + datum.value : ''", "tickSize": {"condition": {"test": "datum.value % 50 != 0", "value": 10}, "value": 18}, "labelPadding": 13, "titlePadding": 25, "labelFlush": false, "labelOverlap": false}},
    "y": {"field": "VS10", "type": "quantitative", "scale": {"domain": [-2.25, 4.77], "nice": false, "zero": false},
      "axis": {"title": "response [mV]", "values": [-2,-1.5,-1,-0.5,0,0.5,1,1.5,2,2.5,3,3.5,4,4.5], "labelExpr": "datum.value % 1 == 0 ? '' + datum.value : ''", "tickSize": {"condition": {"test": "datum.value % 1 != 0", "value": 10}, "value": 18}, "labelPadding": 14, "titlePadding": 14, "titleY": 243, "labelFlush": false, "labelOverlap": false}},
    "color": {"datum": "VS10", "type": "nominal", "scale": {"domain": ["VS8", "VS10"], "range": ["#231f20", "#ed1c24"]},
      "legend": {"orient": "none", "legendX": 261, "legendY": 25, "title": null, "symbolType": "stroke", "symbolSize": 3600, "symbolStrokeWidth": 1.5, "labelFontSize": 24, "labelLimit": 400, "labelOffset": 8, "clipHeight": 24, "rowPadding": 5, "padding": 0, "symbolOffset": 0}}
   }},
  {"mark": {"type": "line", "strokeWidth": 1.5},
   "encoding": {
    "x": {"field": "t", "type": "quantitative"},
    "y": {"field": "VS8", "type": "quantitative", "title": "response [mV]"},
    "color": {"datum": "VS8", "type": "nominal"}
   }}
 ]
},
{
 "width": 402, "height": 446,
 "title": {"text": "b", "dx": -97, "offset": -2},
 "data": {"name": "b"},
 "resolve": {"scale": {"x": "independent"}},
 "layer": [
  {
   "encoding": {
    "x": {"field": "cond", "type": "nominal", "sort": ["-10 nA", "+10 nA", "-10nA", "+10nA"], "scale": {"paddingInner": 0.28, "paddingOuter": 0.14},
      "axis": {"title": null, "labelAngle": 0, "ticks": false, "labelPadding": 22, "labelOffset": -13}}
   },
   "layer": [
    {"mark": {"type": "bar", "stroke": "#231f20", "strokeWidth": 1.5},
     "encoding": {
      "y": {"field": "value", "type": "quantitative", "scale": {"domain": [-150, 200], "nice": false},
        "axis": {"title": "response [Hz]", "values": [-150,-125,-100,-75,-50,-25,0,25,50,75,100,125,150,175,200], "labelExpr": "datum.value % 50 == 0 ? '' + datum.value : ''", "tickSize": {"condition": {"test": "datum.value % 50 != 0", "value": 9}, "value": 18}, "labelPadding": 14, "titlePadding": 22, "minExtent": 74, "titleY": 242, "labelFlush": false, "labelOverlap": false}},
      "color": {"field": "series", "type": "nominal", "scale": {"domain": ["VS 10 response", "VS 8 response"], "range": ["#231f20", "#ed1c24"]},
        "legend": {"orient": "none", "legendX": 139, "legendY": 21, "title": null, "symbolType": "M-1,-0.35H1V0.35H-1Z", "symbolSize": 3720, "symbolStrokeColor": "#231f20", "symbolStrokeWidth": 1.5, "labelFontSize": 24, "labelLimit": 400, "labelOffset": 8, "clipHeight": 24, "rowPadding": 6, "padding": 0, "symbolOffset": 0}}
     }},
    {"mark": {"type": "rule", "color": "#231f20", "strokeWidth": 2.5},
     "encoding": {"y": {"field": "value", "type": "quantitative"}, "y2": {"field": "cap"}}},
    {"mark": {"type": "tick", "color": "#231f20", "size": 21, "thickness": 2.5},
     "encoding": {"y": {"field": "cap", "type": "quantitative"}}},
    {"mark": {"type": "rule", "color": "#231f20", "strokeWidth": 2.5},
     "encoding": {"y": {"field": "dl", "type": "quantitative"}, "y2": {"datum": 0}}}
   ]
  },
  {"mark": {"type": "rule", "color": "#231f20", "strokeWidth": 2},
   "encoding": {"y": {"datum": 0, "type": "quantitative"}}},
  {"mark": {"type": "point", "opacity": 0},
   "encoding": {
    "x": {"field": "grp", "type": "nominal", "sort": ["VS8", "VS10"], "scale": {"type": "band", "paddingInner": 0, "paddingOuter": 0.16},
      "axis": {"orient": "bottom", "title": null, "ticks": false, "domain": false, "labelAngle": 0, "labelFontSize": 26, "offset": 52, "labelPadding": 0}}
   }}
 ]
},
{
 "width": 402, "height": 446,
 "title": {"text": "c", "dx": -44, "offset": 8},
 "data": {"name": "c"},
 "layer": [
  {"mark": {"type": "line", "strokeWidth": 1.5},
   "encoding": {
    "x": {"field": "t", "type": "quantitative", "scale": {"domain": [0, 200], "nice": false},
      "axis": {"title": "time [msec]", "values": [0,25,50,75,100,125,150,175,200], "labelExpr": "datum.value % 50 == 0 ? '' + datum.value : ''", "tickSize": {"condition": {"test": "datum.value % 50 != 0", "value": 10}, "value": 18}, "labelPadding": 13, "titlePadding": 25, "labelFlush": false, "labelOverlap": false}},
    "y": {"field": "Dendrite", "type": "quantitative", "scale": {"domain": [-2, 4], "nice": false, "zero": false},
      "axis": {"title": "response [mV]", "values": [-2,-1.5,-1,-0.5,0,0.5,1,1.5,2,2.5,3,3.5,4], "labelExpr": "datum.value % 1 == 0 ? '' + datum.value : ''", "tickSize": {"condition": {"test": "datum.value % 1 != 0", "value": 10}, "value": 18}, "labelPadding": 14, "titlePadding": 14, "titleY": 243, "labelFlush": false, "labelOverlap": false}},
    "color": {"datum": "Dendrite", "type": "nominal", "scale": {"domain": ["Dendrite", "Axon"], "range": ["#231f20", "#ed1c24"]},
      "legend": {"orient": "none", "legendX": 228, "legendY": 19, "title": null, "symbolType": "stroke", "symbolSize": 3600, "symbolStrokeWidth": 1.5, "labelFontSize": 24, "labelLimit": 400, "labelOffset": 9, "clipHeight": 24, "rowPadding": 6, "padding": 0, "symbolOffset": 0}}
   }},
  {"mark": {"type": "line", "strokeWidth": 1.7},
   "encoding": {
    "x": {"field": "t", "type": "quantitative"},
    "y": {"field": "Axon", "type": "quantitative", "title": "response [mV]"},
    "color": {"datum": "Axon", "type": "nominal"}
   }}
 ]
},
{
 "width": 402, "height": 446,
 "title": {"text": "d", "dx": -97, "offset": 7},
 "data": {"name": "d"},
 "layer": [
  {"transform": [{"filter": "datum.s == 'Dendrite'"}],
   "mark": {"type": "line", "strokeWidth": 3},
   "encoding": {
    "x": {"field": "t", "type": "quantitative", "scale": {"domain": [-5, 10], "nice": false},
      "axis": {"title": "time [msec]", "values": [-5,-2.5,0,2.5,5,7.5,10], "labelExpr": "datum.value % 5 == 0 ? '' + datum.value : ''", "tickSize": {"condition": {"test": "datum.value % 5 != 0", "value": 10}, "value": 18}, "labelPadding": 13, "titlePadding": 25, "labelFlush": false, "labelOverlap": false}},
    "y": {"field": "v", "type": "quantitative", "scale": {"domain": [-1, 3], "nice": false, "zero": false},
      "axis": {"title": "response [mV]", "values": [-1,-0.5,0,0.5,1,1.5,2,2.5,3], "labelExpr": "datum.value % 1 == 0 ? '' + datum.value : ''", "tickSize": {"condition": {"test": "datum.value % 1 != 0", "value": 10}, "value": 18}, "labelPadding": 14, "titlePadding": 25, "minExtent": 74, "titleY": 243, "labelFlush": false, "labelOverlap": false}},
    "color": {"field": "s", "type": "nominal", "scale": {"domain": ["Dendrite", "Axon"], "range": ["#231f20", "#ed1c24"]},
      "legend": {"orient": "none", "legendX": 198, "legendY": 27, "title": null, "symbolType": "stroke", "symbolSize": 3600, "symbolStrokeWidth": 3.5, "labelFontSize": 24, "labelLimit": 400, "labelOffset": 5, "clipHeight": 24, "rowPadding": 5, "padding": 0, "symbolOffset": 0}}
   }},
  {"transform": [{"filter": "datum.s == 'Axon'"}],
   "mark": {"type": "line", "strokeWidth": 3},
   "encoding": {
    "x": {"field": "t", "type": "quantitative"},
    "y": {"field": "v", "type": "quantitative"},
    "color": {"field": "s", "type": "nominal"}
   }}
 ]
}
],
"config": {
 "font": "Liberation Sans",
 "view": {"stroke": "#231f20", "strokeWidth": 2},
 "axis": {"labelFont": "Liberation Sans", "titleFont": "Liberation Sans", "labelFontSize": 21, "titleFontSize": 28, "titleFontWeight": "normal", "labelColor": "#231f20", "titleColor": "#231f20", "tickColor": "#231f20", "tickWidth": 2, "domain": false, "grid": false},
 "legend": {"labelFont": "Liberation Sans", "labelColor": "#231f20"},
 "title": {"font": "Liberation Sans", "fontSize": 22, "fontWeight": "bold", "color": "#231f20", "anchor": "start", "frame": "group", "baseline": "alphabetic", "offset": 7}
}
}
